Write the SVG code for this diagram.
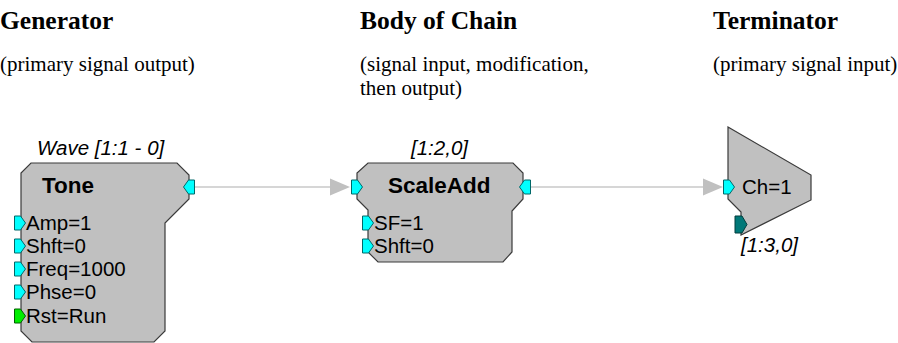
<svg xmlns="http://www.w3.org/2000/svg" width="898" height="343" viewBox="0 0 898 343">
<style>
.head{font-family:"Liberation Serif","Times New Roman",serif;font-weight:bold;font-size:25.5px;fill:#000}
.sub{font-family:"Liberation Serif","Times New Roman",serif;font-size:21px;fill:#000}
.body{fill:#c0c0c0;stroke:#3a3a3a;stroke-width:1.2}
.title{font-family:"Liberation Sans",Arial,sans-serif;font-weight:bold;font-size:22.5px;fill:#000}
.lbl{font-family:"Liberation Sans",Arial,sans-serif;font-size:20.5px;fill:#000}
.cap{font-family:"Liberation Sans",Arial,sans-serif;font-style:italic;font-size:20.5px;fill:#000}
.pin{fill:#00ffff;stroke:#006868;stroke-width:1}
.pg{fill:#00ee00;stroke:#006000;stroke-width:1}
.pt{fill:#007878;stroke:#003c3c;stroke-width:1}
.wire{stroke:#c8c8c8;stroke-width:1.5;fill:none}
.ah{fill:#c0c0c0}
</style>
<defs>
<polygon id="pr" points="-5.5,-7 0.5,-7 5.5,0 0.5,7 -5.5,7"/>
<polygon id="pl" points="5.5,-7 -0.5,-7 -5.5,0 -0.5,7 5.5,7"/>
<polygon id="pb" points="-6,-8.5 1,-8.5 6,0 1,8.5 -6,8.5"/>
</defs>

<g id="headings">
<text class="head" x="0" y="29">Generator</text>
<text class="sub" x="0" y="71">(primary signal output)</text>
<text class="head" x="360" y="29">Body of Chain</text>
<text class="sub" x="360" y="71">(signal input, modification,</text>
<text class="sub" x="360" y="95">then output)</text>
<text class="head" x="713" y="29">Terminator</text>
<text class="sub" x="713" y="71">(primary signal input)</text>
</g>

<g id="connectors">
<line class="wire" x1="195" y1="187" x2="332" y2="187"/>
<polygon class="ah" points="330,178.5 350,187 330,195.5"/>
<line class="wire" x1="531" y1="187" x2="705" y2="187"/>
<polygon class="ah" points="703,178.5 723,187 703,195.5"/>
</g>

<g id="tone">
<text class="cap" x="37" y="155">Wave [1:1 - 0]</text>
<polygon class="body" points="31,163 177,163 189,175 189,199 165,223 165,331 154,342 32,342 21,331 21,173"/>
<text class="title" x="42" y="193">Tone</text>
<use href="#pl" class="pin" x="189" y="187"/>
<use href="#pr" class="pin" x="20" y="223"/>
<use href="#pr" class="pin" x="20" y="246"/>
<use href="#pr" class="pin" x="20" y="269"/>
<use href="#pr" class="pin" x="20" y="292"/>
<use href="#pr" class="pg" x="20" y="316"/>
<text class="lbl" x="26" y="230">Amp=1</text>
<text class="lbl" x="26" y="253">Shft=0</text>
<text class="lbl" x="26" y="276">Freq=1000</text>
<text class="lbl" x="26" y="299">Phse=0</text>
<text class="lbl" x="26" y="323">Rst=Run</text>
</g>

<g id="scaleadd">
<text class="cap" x="411" y="155">[1:2,0]</text>
<polygon class="body" points="368,163 513,163 523,173 523,199 512,211 512,252 503,262 378,262 368,252 368,210 357,199 357,173"/>
<text class="title" x="388" y="193">ScaleAdd</text>
<use href="#pr" class="pin" x="357" y="187"/>
<use href="#pl" class="pin" x="525" y="187"/>
<use href="#pr" class="pin" x="368" y="223"/>
<use href="#pr" class="pin" x="368" y="246"/>
<text class="lbl" x="374" y="230">SF=1</text>
<text class="lbl" x="374" y="253">Shft=0</text>
</g>

<g id="terminator">
<polygon class="body" points="728,127 811,175 811,200 741,235 741,212 728,199"/>
<use href="#pr" class="pin" x="729" y="187"/>
<use href="#pb" class="pt" x="741" y="224.5"/>
<text class="lbl" x="742" y="194">Ch=1</text>
<text class="cap" x="741" y="252">[1:3,0]</text>
</g>
</svg>
